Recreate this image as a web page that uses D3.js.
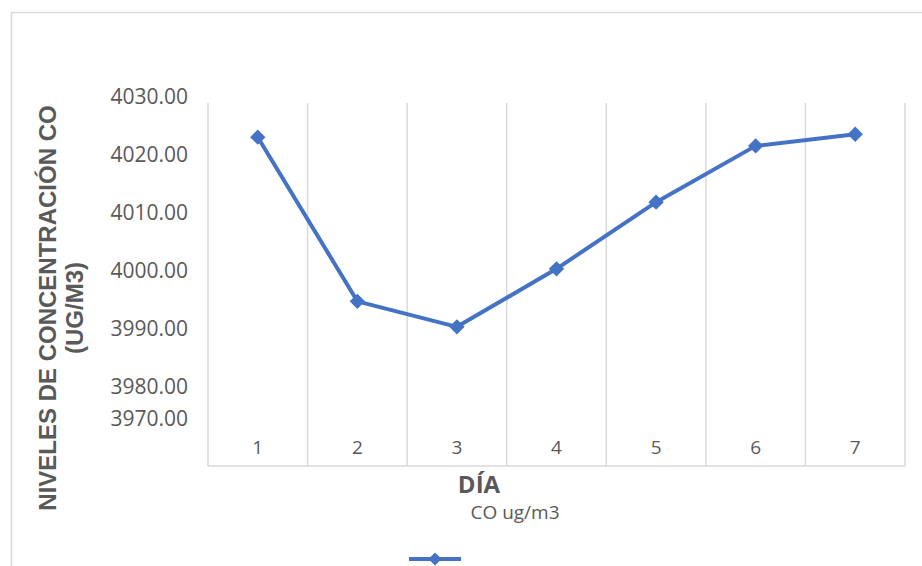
<!DOCTYPE html>
<html>
<head>
<meta charset="utf-8">
<script src="https://cdn.jsdelivr.net/npm/d3@7"></script>
<style>
  body { margin: 0; background: #fff; }
  svg text { fill: #595959; }
</style>
</head>
<body>
<svg id="chart" width="922" height="566"></svg>
<script>
///////////////////////////////////////////////////////////
// Data
const days = ["1", "2", "3", "4", "5", "6", "7"];
const coValues = [4022.9, 3994.6, 3990.2, 4000.2, 4011.7, 4021.4, 4023.4];
const yTicks = [4030, 4020, 4010, 4000, 3990, 3980, 3970];
const seriesName = "CO ug/m3";

///////////////////////////////////////////////////////////
// Layout
const plot = { left: 208, right: 905, top: 103, bottom: 466 };
const blue = "#4472C4";
const grid = "#d9d9d9";

const svg = d3.select("#chart");

// chart area border
svg.append("rect")
  .attr("x", 11.5).attr("y", 12.5)
  .attr("width", 960).attr("height", 600)
  .attr("fill", "none")
  .attr("stroke", grid)
  .attr("stroke-width", 1.5);

const x = d3.scaleBand()
  .domain(days)
  .range([plot.left, plot.right]);

const y = d3.scaleLinear()
  .domain([3970, 4030])
  .range([444, 96]);

///////////////////////////////////////////////////////////
// Vertical gridlines between categories
const bounds = days.map(d => x(d)).concat([plot.right]);
svg.selectAll(".vgrid")
  .data(bounds)
  .enter().append("line")
  .attr("class", "vgrid")
  .attr("x1", d => d).attr("x2", d => d)
  .attr("y1", plot.top).attr("y2", plot.bottom)
  .attr("stroke", grid)
  .attr("stroke-width", 1.5);

// category axis line
svg.append("line")
  .attr("x1", plot.left).attr("x2", plot.right)
  .attr("y1", plot.bottom).attr("y2", plot.bottom)
  .attr("stroke", grid)
  .attr("stroke-width", 1.5);

// category labels
svg.selectAll(".xlab")
  .data(days)
  .enter().append("text")
  .attr("class", "xlab")
  .attr("x", d => x(d) + x.bandwidth() / 2)
  .attr("y", 454)
  .attr("text-anchor", "middle")
  .style("font-family", "'Open Sans', sans-serif")
  .style("font-size", "19px")
  .text(d => d);

// value labels (the last one sits just under 3980 in the original)
svg.selectAll(".ylab")
  .data(yTicks)
  .enter().append("text")
  .attr("class", "ylab")
  .attr("x", 188)
  .attr("y", d => (d === 3970 ? y(3980) + 32 : y(d)) + 7.5)
  .attr("text-anchor", "end")
  .style("font-family", "'Open Sans', sans-serif")
  .style("font-size", "21px")
  .text(d => d3.format(".2f")(d));

///////////////////////////////////////////////////////////
// Axis titles
const yTitle = svg.append("text")
  .attr("transform", "translate(47,308) rotate(-90)")
  .attr("text-anchor", "middle")
  .style("font-family", "'Liberation Sans', Arial, sans-serif")
  .style("font-weight", "bold")
  .style("font-size", "24px");
yTitle.append("tspan").attr("x", 0).attr("y", 8.5).text("NIVELES DE CONCENTRACIÓN CO");
yTitle.append("tspan").attr("x", 0).attr("y", 36).text("(UG/M3)");

svg.append("text")
  .attr("x", 479).attr("y", 493)
  .attr("text-anchor", "middle")
  .style("font-family", "'Open Sans', sans-serif")
  .style("font-weight", "bold")
  .style("font-size", "24px")
  .text("DÍA");

svg.append("text")
  .attr("x", 515).attr("y", 519)
  .attr("text-anchor", "middle")
  .style("font-family", "'Open Sans', sans-serif")
  .style("font-size", "19px")
  .text(seriesName);

///////////////////////////////////////////////////////////
// Series line and markers
const pts = days.map((d, i) => ({ day: d, value: coValues[i] }));

svg.append("path")
  .datum(pts)
  .attr("fill", "none")
  .attr("stroke", blue)
  .attr("stroke-width", 4)
  .attr("stroke-linejoin", "round")
  .attr("d", d3.line()
    .x(d => x(d.day) + x.bandwidth() / 2)
    .y(d => y(d.value)));

const diamond = d3.symbol().type(d3.symbolDiamond2).size(150);

svg.selectAll(".marker")
  .data(pts)
  .enter().append("path")
  .attr("class", "marker")
  .attr("transform", d => `translate(${x(d.day) + x.bandwidth() / 2},${y(d.value)})`)
  .attr("d", diamond)
  .attr("fill", blue);

///////////////////////////////////////////////////////////
// Legend
svg.append("line")
  .attr("x1", 409).attr("x2", 461)
  .attr("y1", 559).attr("y2", 559)
  .attr("stroke", blue)
  .attr("stroke-width", 4);
svg.append("path")
  .attr("transform", "translate(435,559)")
  .attr("d", d3.symbol().type(d3.symbolDiamond2).size(110))
  .attr("fill", blue);
</script>
</body>
</html>
